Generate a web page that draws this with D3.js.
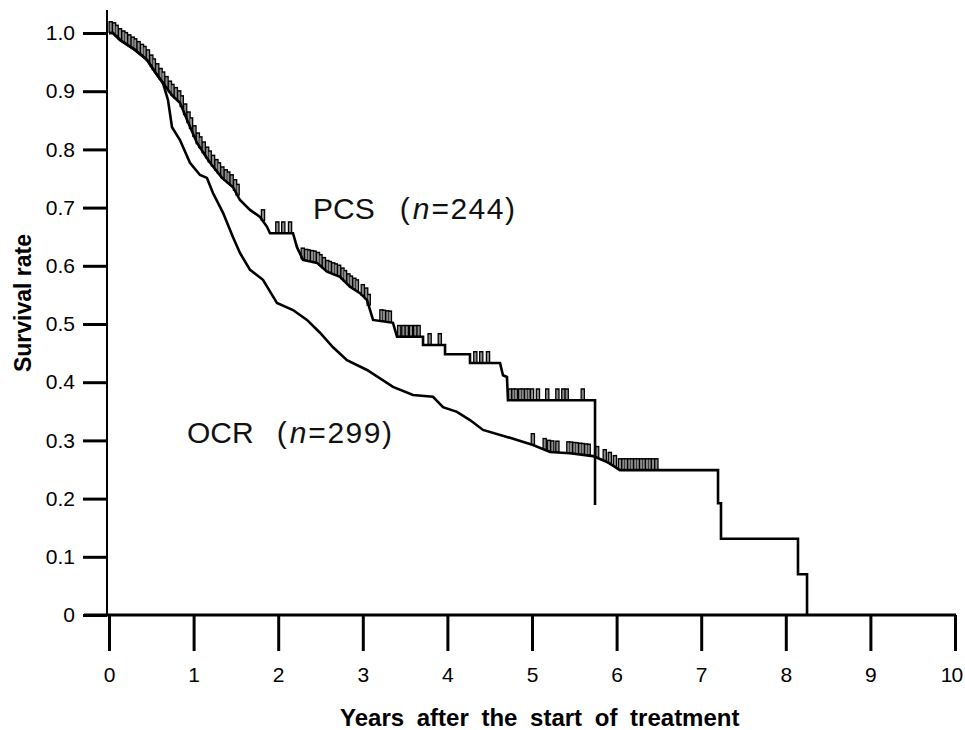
<!DOCTYPE html>
<html lang="en">
<head>
  <meta charset="UTF-8">
  <title>Survival rate</title>
  <script src="https://d3js.org/d3.v7.min.js"></script>
  <style>
    * { margin: 0; padding: 0; }
    body { background-color: #fff; }
    svg { display: block; font-family: "Liberation Sans", Arial, sans-serif; }
    .axis path, .axis line { stroke: #000; }
    .axis text { font-size: 21px; fill: #000; font-family: "Liberation Sans", Arial, sans-serif; }
  </style>
</head>
<body>
  <svg id="chart" width="965" height="730"></svg>

  <script>
    // x axis: years, y axis: survival rate
    var xTicks = [0, 1, 2, 3, 4, 5, 6, 7, 8, 9, 10];
    var yTicks = [0, 0.1, 0.2, 0.3, 0.4, 0.5, 0.6, 0.7, 0.8, 0.9, 1.0];
    var yTickLabels = ["0", "0.1", "0.2", "0.3", "0.4", "0.5", "0.6", "0.7", "0.8", "0.9", "1.0"];

    // PCS curve [years, rate]
    var pcsTimes = [0, 0.047, 0.13, 0.307, 0.449, 0.544, 0.638, 0.745, 0.839, 0.922, 1.04, 1.135, 1.194,
      1.336, 1.466, 1.548, 1.667, 1.785, 1.868, 1.903, 2.175, 2.222, 2.293, 2.459, 2.577, 2.73, 2.849,
      2.967, 3.05, 3.121, 3.357, 3.404, 3.712, 3.712, 3.972, 3.972, 4.267, 4.267, 4.622, 4.657, 4.704,
      4.716, 5.745, 5.745];
    var pcsRates = [1.0, 1.0, 0.988, 0.971, 0.954, 0.933, 0.914, 0.893, 0.88, 0.851, 0.811, 0.79, 0.777,
      0.751, 0.735, 0.713, 0.696, 0.684, 0.667, 0.656, 0.656, 0.632, 0.61, 0.605, 0.59, 0.581, 0.564,
      0.553, 0.541, 0.507, 0.502, 0.478, 0.478, 0.464, 0.464, 0.448, 0.448, 0.433, 0.433, 0.412, 0.409,
      0.369, 0.369, 0.189];

    // OCR curve
    var ocrTimes = [0, 0.047, 0.13, 0.307, 0.449, 0.544, 0.638, 0.697, 0.745, 0.839, 0.957, 1.076, 1.158,
      1.229, 1.348, 1.466, 1.548, 1.667, 1.82, 1.986, 2.175, 2.34, 2.494, 2.648, 2.813, 3.05, 3.357,
      3.593, 3.83, 3.948, 4.113, 4.267, 4.421, 4.704, 5.012, 5.213, 5.449, 5.721, 5.887, 6.04, 7.199,
      7.199, 7.234, 7.234, 8.144, 8.144, 8.251, 8.251];
    var ocrRates = [1.0, 1.0, 0.988, 0.971, 0.954, 0.933, 0.914, 0.885, 0.838, 0.816, 0.777, 0.756, 0.751,
      0.725, 0.691, 0.649, 0.622, 0.593, 0.576, 0.536, 0.524, 0.507, 0.485, 0.46, 0.438, 0.421, 0.392,
      0.378, 0.375, 0.357, 0.349, 0.335, 0.318, 0.306, 0.292, 0.28, 0.278, 0.273, 0.263, 0.249, 0.249,
      0.192, 0.192, 0.131, 0.131, 0.07, 0.07, 0];

    // censored cases (tick marks)
    var pcsCensored = [0.02, 0.06, 0.09, 0.13, 0.17, 0.2, 0.24, 0.28, 0.31, 0.35, 0.39, 0.42, 0.46, 0.5,
      0.53, 0.57, 0.61, 0.64, 0.68, 0.72, 0.75, 0.79, 0.83, 0.86, 0.9, 0.94, 0.97, 1.01, 1.05, 1.08,
      1.12, 1.16, 1.19, 1.23, 1.27, 1.3, 1.34, 1.38, 1.41, 1.45, 1.49, 1.52,
      1.82, 1.99, 2.06, 2.14, 2.29, 2.33, 2.36, 2.4, 2.43, 2.47, 2.5, 2.54, 2.58, 2.61, 2.65, 2.68,
      2.72, 2.76, 2.79, 2.83, 2.86, 2.9, 2.93, 3.0, 3.04, 3.07, 3.22, 3.25, 3.29, 3.32, 3.43, 3.48,
      3.52, 3.57, 3.62, 3.66, 3.79, 3.91, 4.33, 4.4, 4.48, 4.74, 4.78, 4.81, 4.86, 4.89, 4.93, 4.96,
      5.0, 5.07, 5.18, 5.3, 5.37, 5.41, 5.6];
    var ocrCensored = [5.01, 5.15, 5.2, 5.24, 5.3, 5.43, 5.46, 5.5, 5.53, 5.57, 5.6, 5.64, 5.67, 5.77,
      5.86, 5.92, 5.98, 6.04, 6.08, 6.11, 6.15, 6.18, 6.22, 6.25, 6.29, 6.32, 6.36, 6.39, 6.43, 6.47];

    var svg = d3.select('#chart');
    var x = d3.scaleLinear().domain([0, 10]).range([109, 955]);
    var y = d3.scaleLinear().domain([0, 1]).range([615, 33]);

    function toPoints(ts, rs) {
      return ts.map(function(t, i) { return [t, rs[i]]; });
    }
    var pcs = toPoints(pcsTimes, pcsRates);
    var ocr = toPoints(ocrTimes, ocrRates);

    // rate on the drawn line at time t
    function rateAt(pts, t) {
      for (var i = 0; i < pts.length - 1; i++) {
        var a = pts[i], b = pts[i + 1];
        if (t >= a[0] && t <= b[0]) {
          if (b[0] === a[0]) return a[1];
          return a[1] + (b[1] - a[1]) * (t - a[0]) / (b[0] - a[0]);
        }
      }
      return pts[pts.length - 1][1];
    }

    // axes
    var yAxis = d3.axisLeft(y).tickValues(yTicks).tickSize(24).tickPadding(8)
      .tickFormat(function(d, i) { return yTickLabels[i]; });
    var gy = svg.append('g').attr('class', 'axis').attr('transform', 'translate(107,0)').call(yAxis);
    gy.select('.domain').remove();
    gy.selectAll('line').attr('stroke-width', 3);

    var xAxis = d3.axisBottom(x).tickValues(xTicks).tickSize(36).tickPadding(16);
    var gx = svg.append('g').attr('class', 'axis').attr('transform', 'translate(0,615)').call(xAxis);
    gx.select('.domain').remove();
    gx.selectAll('line').attr('stroke-width', 3);
    // keep "10" inside the frame
    gx.selectAll('text').filter(function(d) { return d === 10; })
      .attr('dx', -4).attr('letter-spacing', -1);

    svg.append('line').attr('x1', 107).attr('x2', 107).attr('y1', 10).attr('y2', 616)
      .attr('stroke', '#000').attr('stroke-width', 2);
    svg.append('line').attr('x1', 84).attr('x2', 956).attr('y1', 615).attr('y2', 615)
      .attr('stroke', '#000').attr('stroke-width', 3);

    // censor marks: black outline then grey core
    var tickH = 12;
    var marks = [];
    pcsCensored.forEach(function(t) { marks.push([t, rateAt(pcs, t)]); });
    ocrCensored.forEach(function(t) { marks.push([t, rateAt(ocr, t)]); });
    var gm = svg.append('g');
    gm.selectAll('line.out').data(marks).enter().append('line').attr('class', 'out')
      .attr('x1', function(d) { return x(d[0]); }).attr('x2', function(d) { return x(d[0]); })
      .attr('y1', function(d) { return y(d[1]); }).attr('y2', function(d) { return y(d[1]) - tickH; })
      .attr('stroke', '#000').attr('stroke-width', 4.5);
    gm.selectAll('line.in').data(marks).enter().append('line').attr('class', 'in')
      .attr('x1', function(d) { return x(d[0]); }).attr('x2', function(d) { return x(d[0]); })
      .attr('y1', function(d) { return y(d[1]) - 1; }).attr('y2', function(d) { return y(d[1]) - tickH + 1.5; })
      .attr('stroke', '#8c8c8c').attr('stroke-width', 2);

    // survival curves
    var line = d3.line().x(function(d) { return x(d[0]); }).y(function(d) { return y(d[1]); });
    [ocr, pcs].forEach(function(pts) {
      svg.append('path').attr('d', line(pts)).attr('fill', 'none')
        .attr('stroke', '#000').attr('stroke-width', 2.6).attr('stroke-linejoin', 'miter');
    });

    // series labels
    function label(px, py, name, n, gap) {
      var t = svg.append('text').attr('x', px).attr('y', py).attr('font-size', 30).attr('fill', '#111');
      t.append('tspan').text(name);
      t.append('tspan').attr('dx', gap).text('(');
      t.append('tspan').attr('dx', 3).attr('font-style', 'italic').text('n');
      t.append('tspan').attr('dx', 2).attr('letter-spacing', 1.5).text('=' + n + ')');
    }
    label(313, 219, 'PCS', 244, 25);
    label(187, 443, 'OCR', 299, 23);

    // axis titles
    svg.append('text').attr('x', 340).attr('y', 726).attr('font-size', 24).attr('font-weight', 'bold')
      .attr('word-spacing', 6).text('Years after the start of treatment');
    svg.append('text').attr('transform', 'translate(31,303) rotate(-90)').attr('text-anchor', 'middle')
      .attr('font-size', 23).attr('font-weight', 'bold').text('Survival rate');
  </script>
</body>
</html>
